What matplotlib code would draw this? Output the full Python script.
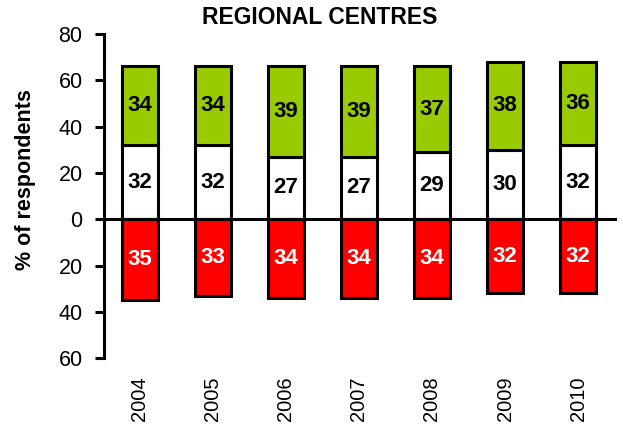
import numpy as np
import matplotlib
matplotlib.use("Agg")
import matplotlib.pyplot as plt

plt.rcParams['font.family'] = ['Liberation Sans', 'DejaVu Sans']

years = ["2004", "2005", "2006", "2007", "2008", "2009", "2010"]
white_vals = [32, 32, 27, 27, 29, 30, 32]
green_vals = [34, 34, 39, 39, 37, 38, 36]
red_vals = [35, 33, 34, 34, 34, 32, 32]

fig = plt.figure(figsize=(6.23, 4.30), dpi=100)
ax = fig.add_axes([0.167, 0.167, 0.823, 0.754])

x = np.arange(len(years))
w = 0.5
lw = 2.2

ax.bar(x, white_vals, w, color="white", edgecolor="black", linewidth=lw, zorder=2)
ax.bar(x, green_vals, w, bottom=white_vals, color="#99CC00", edgecolor="black", linewidth=lw, zorder=2)
ax.bar(x, [-v for v in red_vals], w, color="#FF0000", edgecolor="black", linewidth=lw, zorder=2)

for i in range(len(years)):
    ax.text(x[i], white_vals[i] / 2, str(white_vals[i]), ha="center", va="center",
            fontsize=16, fontweight="bold", color="black", zorder=3)
    ax.text(x[i], white_vals[i] + green_vals[i] / 2, str(green_vals[i]), ha="center", va="center",
            fontsize=16, fontweight="bold", color="black", zorder=3)
    ax.text(x[i], -red_vals[i] / 2, str(red_vals[i]), ha="center", va="center",
            fontsize=16, fontweight="bold", color="white", zorder=3)

ax.axhline(0, color="black", linewidth=2.2, zorder=4)

ax.set_xlim(-0.49, 6.53)
ax.set_ylim(-60, 80)
yt = [80, 60, 40, 20, 0, -20, -40, -60]
ax.set_yticks(yt)
ax.set_yticklabels([str(abs(v)) for v in yt], fontsize=15.5)
ax.set_xticks(x)
ax.set_xticklabels(years, rotation=90, fontsize=14.5)
ax.tick_params(axis="x", length=0, pad=13)
ax.tick_params(axis="y", length=6.5, width=2.2, direction="out", pad=9)

for s in ["top", "right", "bottom"]:
    ax.spines[s].set_visible(False)
ax.spines["left"].set_linewidth(2.2)

ax.set_ylabel("% of respondents", fontsize=15.5, fontweight="bold", va="center")
ax.yaxis.set_label_coords(-0.154, 0.55)
fig.text(0.513, 0.96, "REGIONAL CENTRES", ha="center", va="center", fontsize=16.5, fontweight="bold")

fig.savefig("out.png", dpi=100)
